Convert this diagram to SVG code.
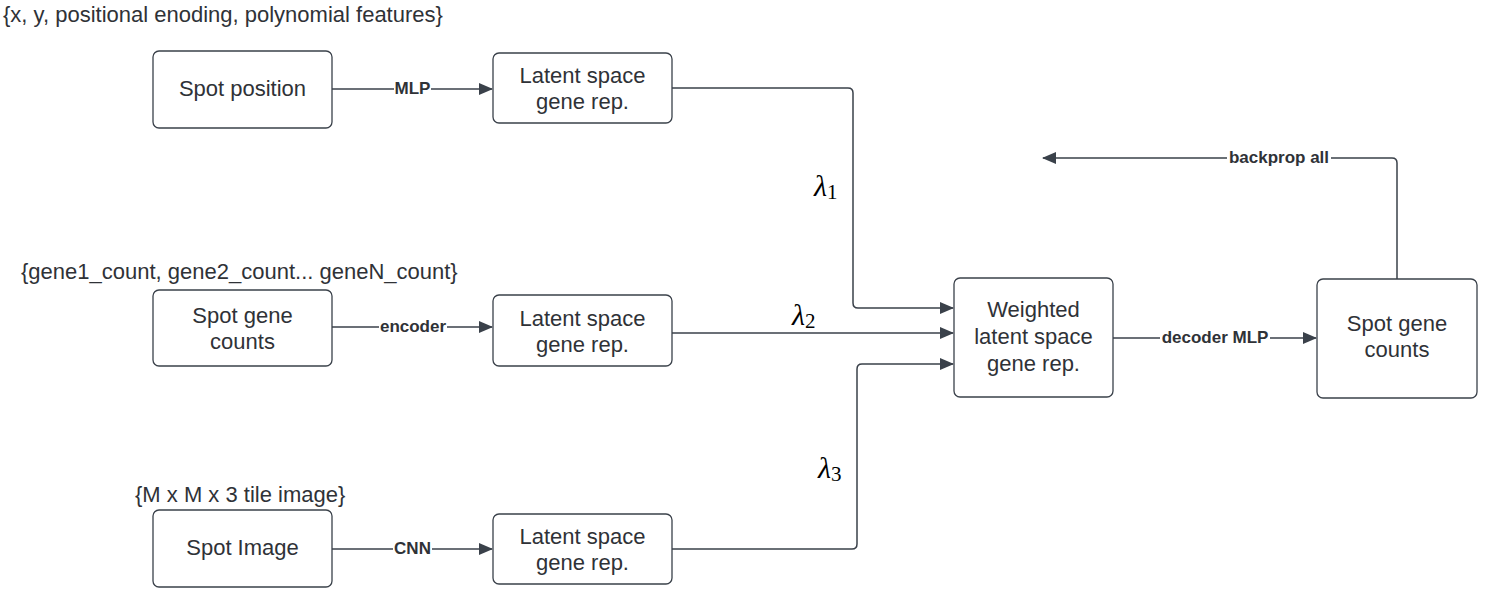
<svg xmlns="http://www.w3.org/2000/svg" width="1486" height="593" viewBox="0 0 1486 593">
<style>
.box{fill:#fff;stroke:#3a414a;stroke-width:1.3}
.t{font-family:"Liberation Sans",Arial,sans-serif;font-size:22px;fill:#2f3237;text-anchor:middle;dominant-baseline:central}
.ann{font-family:"Liberation Sans",Arial,sans-serif;font-size:22px;fill:#2f3237}
.lbl{font-family:"Liberation Sans",Arial,sans-serif;font-size:17px;font-weight:bold;fill:#2f3237;text-anchor:middle;dominant-baseline:central}
.bg{fill:#fff}
.e{fill:none;stroke:#3a414a;stroke-width:1.5}
.lam{font-family:"Liberation Serif","Times New Roman",serif;font-size:30px;fill:#000}
</style>
<defs>
<marker id="ah" markerUnits="userSpaceOnUse" markerWidth="14" markerHeight="12" refX="13" refY="6" orient="auto">
<path d="M0,0 L14,6 L0,12 Z" fill="#3a414a"/>
</marker>
</defs>
<rect width="1486" height="593" fill="#fff"/>
<text class="ann" x="3" y="22">{x, y, positional enoding, polynomial features}</text>
<text class="ann" x="21" y="279">{gene1_count, gene2_count... geneN_count}</text>
<text class="ann" x="135" y="502">{M x M x 3 tile image}</text>

<g id="connectors">
<path class="e" d="M332,89 H492" marker-end="url(#ah)"/>
<rect class="bg" x="394" y="80" width="37" height="17"/>
<text class="lbl" x="412.5" y="88">MLP</text>
<path class="e" d="M332,327 H492" marker-end="url(#ah)"/>
<rect class="bg" x="379" y="318" width="68" height="17"/>
<text class="lbl" x="413" y="326">encoder</text>
<path class="e" d="M332,549 H492" marker-end="url(#ah)"/>
<rect class="bg" x="393" y="540" width="39" height="17"/>
<text class="lbl" x="412.5" y="548">CNN</text>
<path class="e" d="M672,88 H848 Q853,88 853,93 V303 Q853,308 858,308 H953" marker-end="url(#ah)"/>
<path class="e" d="M672,333 H953" marker-end="url(#ah)"/>
<path class="e" d="M672,549 H852 Q857,549 857,544 V369 Q857,364 862,364 H953" marker-end="url(#ah)"/>
<path class="e" d="M1113,338 H1316" marker-end="url(#ah)"/>
<rect class="bg" x="1160" y="329" width="110" height="17"/>
<text class="lbl" x="1215" y="337">decoder MLP</text>
<path class="e" d="M1397,279 V163 Q1397,158 1392,158 H1043" marker-end="url(#ah)"/>
<rect class="bg" x="1227" y="149" width="104" height="17"/>
<text class="lbl" x="1279" y="157">backprop all</text>
<text class="lam" x="814" y="196" font-style="italic">λ<tspan font-style="normal" font-size="21" dy="3">1</tspan></text>
<text class="lam" x="792" y="325" font-style="italic">λ<tspan font-style="normal" font-size="21" dy="3">2</tspan></text>
<text class="lam" x="818" y="478" font-style="italic">λ<tspan font-style="normal" font-size="21" dy="3">3</tspan></text>
</g>

<g id="spot-position">
<rect class="box" x="153" y="51" width="179" height="77" rx="6"/>
<text class="t" x="242.5" y="88">Spot position</text>
</g>
<g id="latent-1">
<rect class="box" x="493" y="53" width="179" height="70" rx="6"/>
<text class="t" x="582.5" y="75">Latent space</text>
<text class="t" x="582.5" y="101">gene rep.</text>
</g>
<g id="spot-gene-counts-in">
<rect class="box" x="153" y="290" width="179" height="76" rx="6"/>
<text class="t" x="242.5" y="315">Spot gene</text>
<text class="t" x="242.5" y="341">counts</text>
</g>
<g id="latent-2">
<rect class="box" x="493" y="295" width="179" height="71" rx="6"/>
<text class="t" x="582.5" y="318">Latent space</text>
<text class="t" x="582.5" y="344">gene rep.</text>
</g>
<g id="spot-image">
<rect class="box" x="153" y="510" width="179" height="77" rx="6"/>
<text class="t" x="242.5" y="547">Spot Image</text>
</g>
<g id="latent-3">
<rect class="box" x="493" y="514" width="179" height="70" rx="6"/>
<text class="t" x="582.5" y="536">Latent space</text>
<text class="t" x="582.5" y="562">gene rep.</text>
</g>
<g id="weighted">
<rect class="box" x="954" y="278" width="159" height="119" rx="6"/>
<text class="t" x="1033.5" y="309">Weighted</text>
<text class="t" x="1033.5" y="336">latent space</text>
<text class="t" x="1033.5" y="363">gene rep.</text>
</g>
<g id="spot-gene-counts-out">
<rect class="box" x="1317" y="279" width="160" height="119" rx="6"/>
<text class="t" x="1397" y="323">Spot gene</text>
<text class="t" x="1397" y="349">counts</text>
</g>
</svg>
